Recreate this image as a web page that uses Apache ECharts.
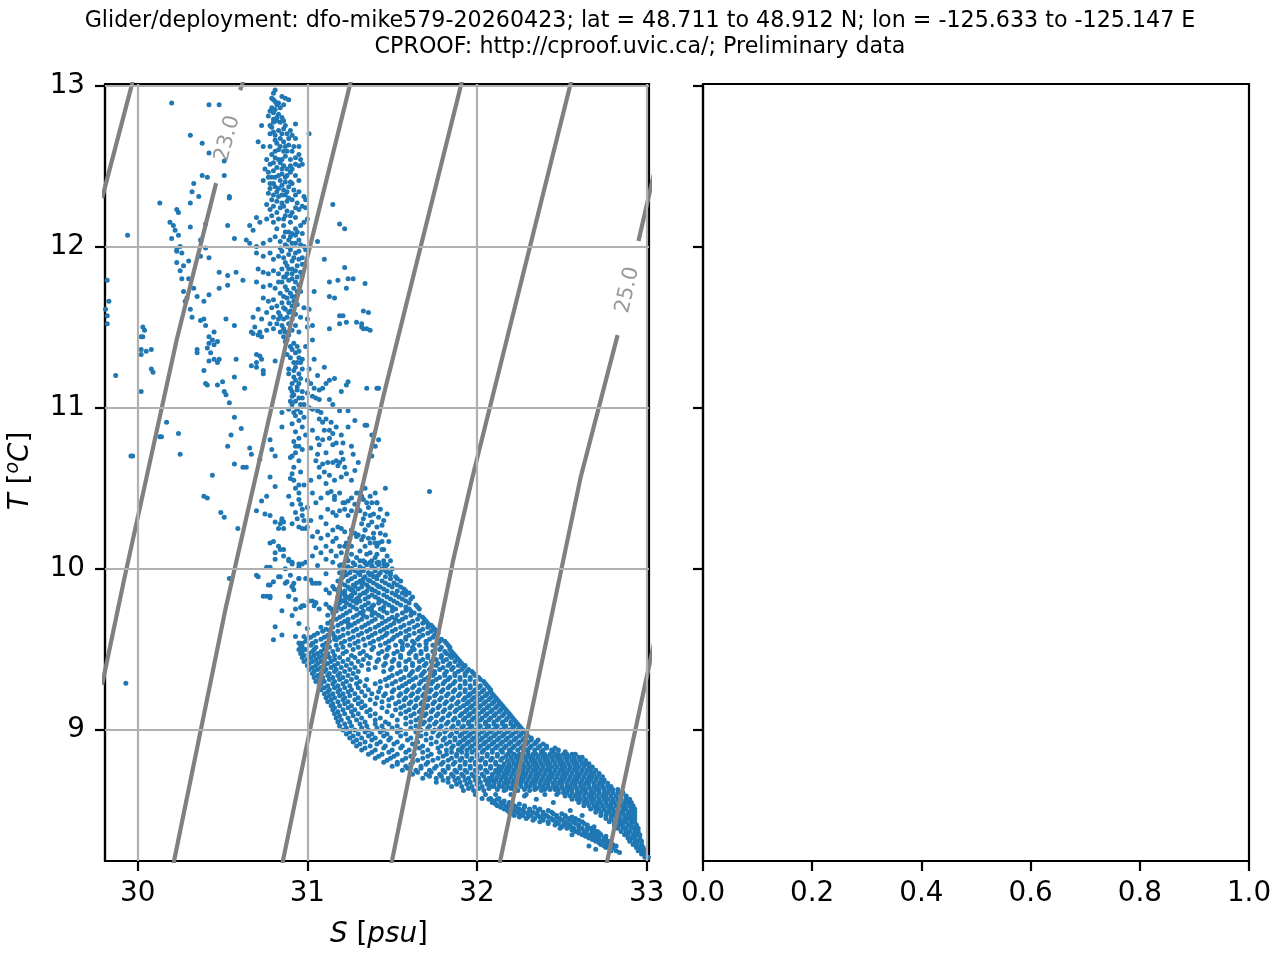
<!DOCTYPE html>
<html><head><meta charset="utf-8">
<script src="https://cdn.jsdelivr.net/npm/echarts@6/dist/echarts.min.js"></script>
<style>html,body{margin:0;padding:0;background:#fff}#c{width:1280px;height:960px}</style>
</head><body><div id="c"></div>
<script>
const titleLines = ['Glider/deployment: dfo-mike579-20260423; lat = 48.711 to 48.912 N; lon = -125.633 to -125.147 E','CPROOF: http://cproof.uvic.ca/; Preliminary data'];
const sTicks = [30, 31, 32, 33];
const tTicks = [9, 10, 11, 12, 13];
const rightTicks = [0, 0.2, 0.4, 0.6, 0.8, 1.0];
const sRange = [29.807, 33.014];
const tRange = [8.187, 13.008];

// isopycnal contours [S, T]
const sig225 = [[29.989,13.10],[29.966,13.007],[29.813,12.393],[29.79,12.30]];
const sig230a = [[30.603,12.970],[30.615,13.001],[30.63,13.06]];
const sig230b = [[30.462,12.393],[30.232,11.432],[29.919,9.930],[29.808,9.372],[29.79,9.28]];
const sig235 = [[31.274,13.10],[31.252,13.007],[30.882,11.432],[30.516,9.744],[30.214,8.187],[30.197,8.10]];
const sig240 = [[31.93,13.10],[31.907,13.007],[31.447,11.066],[31.223,10.055],[30.857,8.194],[30.84,8.10]];
const sig245 = [[32.575,13.10],[32.551,13.007],[31.972,10.563],[31.860,10.055],[31.500,8.194],[31.48,8.10]];
const sig250a = [[33.043,12.45],[33.017,12.331],[32.952,12.034]];
const sig250b = [[32.829,11.450],[32.610,10.563],[32.509,10.055],[32.138,8.194],[32.12,8.10]];
const sig255 = [[33.056,9.60],[33.022,9.434],[32.769,8.194],[32.75,8.10]];
const contourLabels = [{value:[30.53,12.67], name:'23.0', rot:75},{value:[32.888,11.73], name:'25.0', rot:77}];

// scatter points: flat S,T pairs
const outliers = [30.02,11.36,30.02,11.33,30.05,11.35,30.08,11.36,30.08,11.24,30.09,11.22,30.02,11.10,30.13,10.82,30.14,10.82,30.17,10.91,30.24,10.84,30.25,10.71,29.96,10.70,29.97,10.70,29.87,11.20,30.03,11.50,30.04,11.48,30.02,11.44,29.82,11.79,29.83,11.66,29.81,11.61,29.82,11.57,29.82,11.52,29.94,12.07,29.93,9.29,30.03,11.44];
const leftColumn = [30.20,12.89,30.42,12.88,30.48,12.88,30.31,12.69,30.38,12.64,30.42,12.58,30.51,12.53,30.51,12.44,30.38,12.44,30.41,12.43,30.33,12.39,30.32,12.34,30.36,12.31,30.13,12.27,30.31,12.27,30.54,12.31,30.54,12.30,30.23,12.23,30.24,12.21,30.19,12.15,30.21,12.13,30.31,12.12,30.40,12.14,30.53,12.13,30.57,12.05,30.22,12.10,30.24,12.07,30.20,12.05,30.23,11.98,30.23,11.97,30.37,12.04,30.40,11.99,30.30,11.91,30.23,11.90,30.25,11.85,30.26,11.80,30.30,11.80,30.37,11.94,30.42,11.93,30.48,11.84,30.53,11.82,30.58,11.84,30.62,11.79,30.33,11.74,30.29,11.68,30.28,11.66,30.35,11.69,30.39,11.66,30.48,11.74,30.53,11.76,30.37,11.54,30.40,11.51,30.45,11.47,30.52,11.55,30.57,11.51,30.42,11.70,30.26,11.96,30.27,11.88,30.31,11.61,30.32,11.56,30.39,11.55,30.42,11.44,30.25,12.00,30.27,11.72,
30.35,11.36,30.35,11.34,30.42,11.40,30.44,11.42,30.45,11.39,30.47,11.41,30.41,11.37,30.43,11.34,30.45,11.30,30.48,11.30,30.47,11.28,30.42,11.29,30.39,11.23,30.40,11.15,30.41,11.14,30.47,11.14,30.50,11.16,30.51,11.10,30.52,11.08,30.57,11.19,30.58,11.30,30.63,11.12,30.54,11.03,30.57,10.94,30.61,10.87,30.55,10.83,30.53,10.76,30.57,10.65,30.62,10.63,30.64,10.63,30.44,10.58,30.39,10.45,30.41,10.44,30.49,10.35,30.51,10.32,30.59,10.25];
const mainColumn = [30.81,12.97,30.80,12.95,30.79,12.92,30.80,12.91,30.85,12.93,30.87,12.92,30.89,12.91,30.79,12.86,30.80,12.83,30.81,12.85,30.77,12.81,30.80,12.79,30.83,12.82,30.80,12.77,30.82,12.78,30.84,12.77,30.83,12.72,30.86,12.73,30.88,12.70,30.91,12.69,30.93,12.67,30.95,12.62,30.92,12.62,30.89,12.63,30.86,12.65,30.84,12.67,30.81,12.69,30.80,12.71,30.78,12.70,30.71,12.65,30.74,12.62,30.73,12.75,31.01,12.70,30.93,12.76,30.81,12.59,30.83,12.60,30.86,12.59,30.91,12.59,30.95,12.57,30.96,12.54,30.76,12.54,30.80,12.52,30.83,12.54,30.86,12.50,30.90,12.50,30.93,12.51,30.95,12.50,30.97,12.51,30.75,12.48,30.77,12.46,30.80,12.47,30.83,12.44,30.87,12.43,30.90,12.46,30.93,12.44,30.95,12.41,30.74,12.41,30.78,12.39,30.81,12.37,30.85,12.38,30.89,12.37,30.92,12.35,30.95,12.34,30.98,12.31,30.99,12.29,30.77,12.33,30.80,12.32,30.83,12.31,30.87,12.32,30.91,12.29,30.94,12.27,30.97,12.25,30.76,12.26,30.80,12.25,30.84,12.24,30.88,12.22,30.91,12.21,30.95,12.23,30.99,12.24,30.70,12.18,30.72,12.15,30.76,12.17,30.80,12.15,30.83,12.17,30.86,12.13,30.89,12.09,30.93,12.11,30.96,12.13,30.98,12.15,31.00,12.17,30.66,12.13,30.68,12.10,30.64,12.04,30.66,12.02,30.70,12.00,30.74,12.02,30.78,12.04,30.81,12.06,30.86,12.06,30.89,12.04,30.91,12.02,30.95,12.04,30.98,12.00,30.99,11.98,30.70,11.96,30.74,11.94,30.78,11.96,30.80,11.92,30.83,11.94,30.87,11.90,30.91,11.91,30.95,11.92,30.97,11.89,30.71,11.86,30.74,11.84,30.77,11.83,30.80,11.85,30.83,11.83,30.87,11.81,30.91,11.80,30.93,11.78,30.95,11.76,30.70,11.78,30.74,11.75,30.78,11.76,30.81,11.74,30.84,11.71,30.87,11.75,30.90,11.71,30.93,11.69,30.74,11.68,30.77,11.66,30.80,11.67,30.82,11.63,30.85,11.65,30.87,11.61,30.89,11.59,30.91,11.63,30.76,11.59,30.80,11.56,30.83,11.55,30.85,11.51,30.87,11.47,30.80,11.49,30.76,11.48,30.72,11.47,30.69,11.50,30.67,11.47,30.91,11.55,30.93,11.51,30.95,11.47,30.89,11.45,
30.82,12.88,30.84,12.86,30.78,12.75,30.85,12.80,30.87,12.75,30.89,12.67,30.82,12.64,30.87,12.56,30.84,12.52,30.79,12.57,30.82,12.49,30.88,12.48,30.85,12.45,30.79,12.43,30.86,12.35,30.90,12.40,30.82,12.34,30.88,12.28,30.85,12.27,30.79,12.29,30.93,12.18,30.90,12.15,30.87,12.19,30.82,12.11,30.97,12.08,30.93,12.07,30.88,12.00,30.93,11.96,30.85,11.97,30.89,11.86,30.93,11.85,30.97,11.82,30.85,11.78,30.96,11.72,30.88,11.68,30.92,11.66,30.83,11.59,30.79,11.62,30.86,11.55,30.78,11.52,30.84,11.47,30.98,11.62,30.96,11.56,31.00,11.50,30.73,11.55,30.71,11.61,30.68,11.56,
30.81,12.90,30.83,12.89,30.86,12.88,30.78,12.84,30.82,12.80,30.86,12.78,30.79,12.74,30.85,12.70,30.90,12.72,30.81,12.66,30.87,12.62,30.84,12.62,30.78,12.62,30.88,12.59,30.93,12.55,30.90,12.54,30.85,12.54,30.81,12.55,30.78,12.51,30.85,12.48,30.91,12.48,30.88,12.44,30.81,12.43,30.77,12.43,30.84,12.41,30.91,12.39,30.87,12.40,30.80,12.39,30.83,12.36,30.88,12.34,30.93,12.32,30.78,12.36,30.85,12.32,30.89,12.30,30.82,12.28,30.86,12.25,30.93,12.24,30.78,12.23,30.82,12.21,30.90,12.19,30.86,12.17,30.79,12.19,
30.91,12.08,30.94,12.09,30.87,12.09,30.84,12.03,30.90,12.06,30.93,12.02,30.96,12.01,30.87,12.01,30.84,11.99,30.90,11.98,30.95,11.97,30.89,11.95,30.92,11.93,30.86,11.93,30.97,11.93,30.88,11.88,30.94,11.88,30.91,11.86,30.85,11.86,30.96,11.84,30.88,11.83,30.91,11.83,30.94,11.81,30.86,11.81,30.89,11.79,30.83,11.78,30.92,11.74,30.88,11.73,30.94,11.72,30.86,11.69,30.91,11.69,30.89,11.65,30.94,11.64,30.86,11.62,30.90,11.60,30.84,11.57,30.88,11.56,30.93,11.58,30.82,11.52,30.89,11.52,30.86,11.49,30.91,11.48,
31.15,12.26,31.19,12.14,31.22,12.11,31.22,11.87,31.13,11.78,31.18,11.79,31.24,11.80,31.27,11.80,31.23,11.74,31.34,11.77,31.13,11.69,31.16,11.68,31.33,11.60,31.36,11.59,31.19,11.57,31.21,11.57,31.19,11.52,31.23,11.53,31.29,11.53,31.32,11.50,31.35,11.49,31.00,11.55,31.01,11.61,31.03,11.51,31.13,11.49,31.10,11.92,31.06,12.03,31.04,11.72];
const middle = [30.86,11.44,30.87,11.41,30.92,11.40,30.91,11.36,30.93,11.34,30.95,11.35,30.97,11.30,30.92,11.28,30.94,11.28,30.96,11.28,30.89,11.24,30.92,11.23,30.95,11.21,30.96,11.18,30.93,11.17,30.91,11.15,30.95,11.15,30.94,11.11,30.91,11.10,30.91,11.07,30.90,11.04,30.93,11.04,30.95,11.06,30.97,11.06,30.91,11.02,30.94,10.99,30.96,10.97,30.89,10.99,30.93,10.95,30.98,10.94,
30.88,11.42,30.90,11.38,30.94,11.38,30.88,11.33,30.95,11.31,30.90,11.31,30.93,11.25,30.89,11.21,30.97,11.24,30.92,11.19,30.94,11.13,30.90,11.12,30.97,11.10,30.92,11.08,30.96,11.02,30.92,10.97,30.95,10.92,30.91,10.90,30.97,10.88,30.93,10.85,30.95,10.81,30.92,10.79,30.97,10.74,30.93,10.72,30.95,10.67,30.92,10.63,30.96,10.60,30.93,10.50,30.96,10.40,30.93,10.35,30.98,10.30,30.94,10.31,
30.68,11.46,30.71,11.45,30.73,11.44,30.70,11.33,30.72,11.32,30.73,11.30,30.70,11.28,30.67,11.26,30.70,11.25,30.74,11.23,30.74,11.21,30.81,11.29,
31.01,11.24,31.00,11.17,31.02,11.15,31.04,11.12,31.07,11.11,31.09,11.12,31.11,11.15,31.13,11.17,31.16,11.18,31.20,11.10,31.23,11.14,31.24,11.16,31.35,11.12,31.41,11.12,31.03,11.07,31.05,11.06,31.07,11.05,31.13,11.05,31.15,11.02,
31.01,11.00,31.03,10.99,31.06,10.98,31.08,10.97,31.07,10.93,31.09,10.91,31.11,10.93,31.14,10.91,31.17,10.88,31.15,10.84,31.13,10.81,31.13,10.86,31.19,10.98,31.24,10.98,31.06,10.81,31.09,10.80,31.07,10.77,31.06,10.71,31.15,10.77,31.17,10.78,31.21,10.78,31.26,10.76,31.34,10.89,31.42,10.80,
30.93,10.76,30.95,10.76,30.91,10.70,30.90,10.69,30.91,10.59,30.90,10.56,30.92,10.55,30.95,10.52,30.98,10.52,30.89,10.45,30.95,10.47,30.95,10.43,30.91,10.40,30.97,10.37,31.00,10.38,30.97,10.33,31.00,10.26,30.97,10.25,30.95,10.26,30.91,10.28,
31.05,10.67,31.07,10.63,31.09,10.65,31.12,10.66,31.15,10.66,31.17,10.67,31.18,10.64,31.19,10.66,31.21,10.68,31.22,10.63,31.23,10.59,31.20,10.57,31.13,10.58,
31.05,10.41,31.11,10.53,31.12,10.47,31.14,10.48,31.16,10.45,31.16,10.43,31.19,10.47,31.21,10.41,31.22,10.41,31.24,10.42,31.26,10.44,31.29,10.47,31.32,10.45,31.33,10.43,
31.15,10.35,31.17,10.33,31.19,10.36,31.22,10.37,31.24,10.33,31.26,10.36,31.28,10.40,31.30,10.37,31.34,10.34,31.35,10.41,31.38,10.41,31.41,10.41,30.85,10.30,30.84,10.28,30.86,10.25,30.99,10.25,
31.11,10.28,31.15,10.24,31.18,10.26,31.20,10.25,31.22,10.23,31.26,10.24,31.28,10.22,31.29,10.20,31.30,10.21,31.34,10.24,31.36,10.19,31.39,10.22,31.41,10.14,31.26,10.14,31.22,10.14,31.19,10.14,31.15,10.17,31.11,10.14,31.23,10.16,31.32,10.18,31.37,10.16,31.40,10.16,31.42,10.16,
30.83,10.14,30.86,10.12,30.89,10.06,30.91,10.04,30.95,10.03,30.99,10.04,31.03,10.08,31.11,10.06,31.15,10.04,31.19,10.02,31.22,9.99,31.26,10.00,31.32,9.99,31.34,10.04,31.38,10.02,31.42,10.04,31.38,9.97,31.40,9.95,31.36,9.93,31.32,9.91,31.28,9.89,31.26,9.87,31.22,9.85,31.19,9.87,31.15,9.89,31.11,9.87,31.07,9.91,31.03,9.91,30.99,9.94,30.95,9.94,30.91,9.89,30.87,9.91,31.03,9.80,31.05,9.79,31.07,9.75,31.13,9.76,31.19,9.83,31.22,9.81,31.26,9.83,31.30,9.82,31.34,9.85,31.38,9.87,31.42,9.89,
30.66,10.75,30.67,10.71,30.72,10.68,30.73,10.42,30.70,10.36,30.75,10.34,30.78,10.33,30.76,10.45,30.78,10.80,30.79,10.74,30.81,10.70,30.78,10.57,30.81,10.51,30.85,10.97,30.85,10.88,30.81,10.29,30.85,10.31,30.86,10.29,30.83,10.25,30.80,10.17,30.78,10.16,30.81,10.10,30.81,10.06,30.84,10.12,30.86,10.08,30.89,10.05,30.91,10.03,30.95,10.01,30.76,10.01,30.78,10.01,30.71,9.95,30.54,9.94,30.78,9.90,30.83,9.95,30.88,9.92,30.91,9.89,30.76,9.83,30.78,9.83,30.89,9.83,30.93,9.81,30.96,9.76,30.98,9.77,
31.32,11.52,31.33,11.49,31.37,11.48,31.42,11.12,31.35,10.89,31.38,10.83,31.40,10.76,31.38,10.70,31.46,10.50,31.72,10.48,31.41,10.41,31.36,10.38,31.47,10.34,31.42,10.32,31.45,10.30,31.41,10.26,31.34,10.24,31.44,10.17,31.48,10.17,31.44,10.12,31.45,10.12,31.49,10.05,31.45,10.03,31.46,10.02,31.47,9.98,31.33,10.31,31.36,10.27,31.39,10.34,31.43,10.22,31.37,10.10,31.40,10.07,31.35,10.09,
30.70,9.96,30.74,9.83,30.78,9.82,30.77,9.90,30.80,9.92,30.84,9.95,30.87,10.00,30.90,9.96,30.92,9.91,30.95,9.94,30.97,10.03,31.02,9.93,31.05,9.91,31.06,10.02,31.11,9.97,31.13,9.85,31.11,9.78,31.05,9.79,31.04,9.77,31.01,9.80,30.97,9.77,30.93,9.75,30.91,9.71,30.95,9.66,31.00,9.63,30.98,9.58,30.93,9.58,30.95,9.54,30.85,9.59,30.80,9.56,30.81,9.64,30.85,9.74,30.89,9.83,30.92,9.87,31.14,9.75,31.13,9.62,31.16,9.58,31.17,9.56,
31.31,10.47,31.34,10.50,31.37,10.45,31.40,10.47,31.31,10.36,31.37,10.33,31.43,10.37,31.32,10.28,31.38,10.29,31.44,10.27,31.33,10.20,31.39,10.19,31.46,10.21,31.31,10.11,31.34,10.14,31.41,10.09,31.47,10.08,31.33,10.05,31.37,10.04,31.29,10.07,31.26,10.09,31.23,10.07,31.20,10.10,31.17,10.08,31.14,10.11,31.08,10.10,31.05,10.13,31.08,10.19,31.12,10.21,31.17,10.19,31.25,10.19,31.06,10.23,31.03,10.20,31.02,10.30,31.08,10.32,31.12,10.37,31.08,10.44,31.03,10.47,31.02,10.55,31.07,10.57,31.10,10.60,31.16,10.55,31.26,10.55,31.28,10.61,31.30,10.66,31.27,10.71,31.20,10.72,31.11,10.72,31.02,10.75,30.99,10.83,31.03,10.86,31.10,10.86,31.20,10.83,31.24,10.88,31.28,10.92,30.98,11.02,31.00,11.09,31.06,11.20,31.10,11.25,31.04,11.30,30.99,11.38,31.03,11.42];

// sheet rows: [T, S, S, ...]
const sheetRows = [
[10.05,31.24,31.31,31.38,31.45],[10.025,31.20,31.28,31.35,31.42,31.47],[10.00,31.22,31.26,31.33,31.40,31.44,31.50],[9.975,31.19,31.25,31.30,31.36,31.43,31.49],[9.95,31.21,31.28,31.34,31.39,31.46,31.52],[9.925,31.18,31.24,31.31,31.37,31.44,31.55],[9.90,31.22,31.27,31.35,31.41,31.48,31.53],[9.875,31.16,31.25,31.30,31.38,31.45,31.57],[9.85,31.20,31.28,31.33,31.42,31.50,31.56,31.60],[9.825,31.18,31.24,31.36,31.40,31.47,31.54,31.62],[9.80,31.21,31.27,31.31,31.44,31.51,31.58],[9.775,31.17,31.25,31.34,31.39,31.48,31.55,31.64],[9.75,31.20,31.29,31.36,31.43,31.52,31.60,31.66],[9.725,31.15,31.23,31.31,31.40,31.47,31.56,31.63],[9.70,31.19,31.27,31.35,31.44,31.50,31.58,31.68],[9.675,31.14,31.22,31.30,31.38,31.46,31.54,31.62,31.70],[9.65,31.18,31.26,31.34,31.42,31.49,31.57,31.65,31.73],[9.625,31.11,31.21,31.29,31.37,31.45,31.52,31.60,31.68,31.75],[9.60,31.06,31.15,31.24,31.32,31.40,31.47,31.55,31.63,31.71,31.77],[9.575,31.02,31.10,31.19,31.27,31.36,31.44,31.51,31.58,31.66,31.74],[9.55,30.99,31.05,31.13,31.22,31.30,31.39,31.48,31.55,31.62,31.70,31.78,31.81],[9.525,30.96,31.02,31.09,31.17,31.25,31.34,31.43,31.52,31.59,31.66,31.74,31.83],
[9.50,30.95,30.99,31.04,31.10,31.18,31.27,31.38,31.47,31.56,31.63,31.70,31.78,31.84],[9.475,30.96,31.01,31.06,31.12,31.21,31.31,31.42,31.51,31.60,31.67,31.75,31.82,31.86],[9.45,30.97,31.02,31.07,31.13,31.19,31.28,31.37,31.46,31.55,31.64,31.71,31.79,31.85,31.88],[9.425,30.98,31.03,31.08,31.14,31.21,31.30,31.41,31.50,31.58,31.66,31.73,31.80,31.87,31.90],[9.40,31.00,31.05,31.10,31.16,31.23,31.32,31.45,31.54,31.62,31.69,31.76,31.83,31.89,31.93],[9.375,31.01,31.06,31.11,31.17,31.25,31.36,31.49,31.58,31.65,31.72,31.78,31.85,31.91,31.95],[9.35,31.03,31.08,31.13,31.19,31.27,31.53,31.61,31.68,31.75,31.81,31.87,31.93,31.98],[9.325,31.04,31.09,31.15,31.21,31.29,31.48,31.57,31.64,31.71,31.78,31.84,31.90,31.96,32.01],[9.30,31.05,31.10,31.16,31.23,31.31,31.43,31.52,31.60,31.67,31.74,31.81,31.87,31.93,31.99,32.04],[9.275,31.07,31.12,31.18,31.25,31.34,31.47,31.56,31.63,31.70,31.77,31.84,31.90,31.96,32.02,32.06],[9.25,31.08,31.13,31.19,31.26,31.36,31.51,31.59,31.66,31.73,31.80,31.87,31.93,31.99,32.04,32.08],[9.225,31.10,31.15,31.21,31.28,31.38,31.46,31.55,31.62,31.69,31.76,31.83,31.90,31.96,32.01,32.06,32.09],[9.20,31.11,31.16,31.22,31.30,31.41,31.50,31.58,31.65,31.72,31.79,31.86,31.93,31.98,32.03,32.08,32.11],[9.175,31.12,31.18,31.24,31.32,31.44,31.54,31.61,31.68,31.75,31.82,31.89,31.95,32.00,32.05,32.10,32.13],[9.15,31.14,31.19,31.26,31.34,31.48,31.57,31.64,31.71,31.78,31.85,31.92,31.97,32.02,32.07,32.12,32.15],[9.125,31.15,31.21,31.28,31.37,31.52,31.60,31.67,31.74,31.81,31.88,31.94,31.99,32.04,32.09,32.14,32.17],[9.10,31.16,31.22,31.30,31.40,31.55,31.63,31.70,31.77,31.84,31.91,31.96,32.01,32.06,32.11,32.16,32.19],[9.075,31.17,31.24,31.32,31.43,31.58,31.66,31.73,31.80,31.87,31.93,31.98,32.03,32.08,32.13,32.18,32.21],[9.05,31.18,31.25,31.34,31.46,31.61,31.69,31.76,31.83,31.89,31.95,32.00,32.05,32.10,32.15,32.20,32.23],[9.025,31.19,31.26,31.35,31.44,31.53,31.64,31.72,31.79,31.86,31.92,31.97,32.02,32.07,32.12,32.17,32.22,32.25],[9.00,31.21,31.28,31.36,31.45,31.55,31.67,31.75,31.82,31.88,31.94,31.99,32.04,32.09,32.14,32.19,32.24,32.27],[8.975,31.23,31.30,31.38,31.47,31.58,31.70,31.78,31.85,31.91,31.96,32.01,32.06,32.11,32.16,32.21,32.26,32.29],[8.95,31.25,31.32,31.40,31.49,31.61,31.73,31.81,31.87,31.93,31.98,32.03,32.08,32.13,32.18,32.23,32.28,32.32],[8.925,31.27,31.34,31.43,31.53,31.65,31.76,31.84,31.90,31.95,32.00,32.05,32.10,32.15,32.20,32.25,32.30,32.35],[8.90,31.29,31.37,31.46,31.56,31.68,31.79,31.86,31.92,31.97,32.02,32.07,32.12,32.17,32.22,32.27,32.32,32.37,32.41],[8.875,31.32,31.40,31.50,31.60,31.71,31.82,31.89,31.94,31.99,32.04,32.09,32.14,32.19,32.24,32.29,32.34,32.39,32.44,32.48],[8.865,32.30,32.38,32.45,32.52],
[8.85,31.36,31.44,31.53,31.63,31.73,31.82,31.88,31.94,32.00,32.06,32.12,32.18],[8.825,31.40,31.49,31.58,31.68,31.77,31.85,31.91,31.97,32.03,32.09,32.15],[8.80,31.45,31.53,31.62,31.71,31.80,31.87,31.93,31.99,32.05,32.11],[8.775,31.50,31.58,31.67,31.76,31.83,31.90,31.96,32.02,32.08,32.13],[8.75,31.56,31.64,31.72,31.80,31.87,31.93,31.99,32.05,32.11],[8.725,31.62,31.70,31.78,31.85,31.91,31.97,32.03,32.09],[8.70,31.68,31.76,31.83,31.89,31.95,32.01,32.07],[8.675,31.76,31.83,31.90,31.96,32.02,32.07],[8.65,31.85,31.91,31.97,32.03,32.08],[8.625,31.92,31.98,32.04,32.16,32.24,32.31,32.38],[8.60,31.99,32.05,32.11,32.20,32.29,32.40,32.47],[8.575,32.03,32.08,32.13]
];
// in-between rows of the same sheet
const sheetRows2 = [
[10.0375,31.27,31.34,31.41],[10.0125,31.24,31.31,31.38,31.46],[9.9875,31.22,31.28,31.33,31.40,31.46],[9.9625,31.23,31.31,31.37,31.42,31.49],[9.9375,31.20,31.26,31.33,31.41,31.49,31.53],[9.9125,31.20,31.29,31.33,31.39,31.46,31.51],[9.8875,31.19,31.24,31.32,31.36,31.43,31.50,31.55],[9.8625,31.18,31.22,31.27,31.35,31.40,31.47,31.53,31.58],[9.8375,31.22,31.26,31.31,31.38,31.45,31.52,31.58],[9.8125,31.19,31.25,31.29,31.34,31.42,31.49,31.56,31.61],[9.7875,31.19,31.23,31.29,31.36,31.42,31.46,31.53,31.60],[9.7625,31.18,31.22,31.27,31.32,31.38,31.45,31.50,31.58,31.65],[9.7375,31.17,31.25,31.33,31.38,31.45,31.50,31.58,31.61],[9.7125,31.12,31.21,31.29,31.33,31.38,31.42,31.53,31.61,31.66],[9.6875,31.17,31.24,31.32,31.40,31.48,31.52,31.56,31.65,31.69],[9.6625,31.12,31.20,31.24,31.28,31.36,31.44,31.51,31.60,31.68,31.71],[9.6375,31.08,31.15,31.24,31.32,31.40,31.47,31.55,31.63,31.71,31.74],[9.6125,31.09,31.18,31.27,31.35,31.43,31.50,31.58,31.66,31.73,31.76],[9.5875,31.04,31.12,31.21,31.30,31.38,31.46,31.53,31.60,31.68,31.75],[9.5625,31.00,31.08,31.16,31.25,31.33,31.42,31.50,31.58,31.65,31.72,31.79],[9.5375,30.97,31.03,31.11,31.20,31.28,31.37,31.46,31.56,31.63,31.70,31.77,31.82],[9.5125,30.97,31.05,31.13,31.21,31.30,31.39,31.48,31.56,31.62,31.70,31.79,31.84],
[9.4875,30.97,31.03,31.08,31.15,31.23,31.33,31.44,31.53,31.61,31.67,31.74,31.81,31.85],[9.4625,30.98,31.04,31.09,31.16,31.26,31.35,31.47,31.55,31.64,31.71,31.79,31.84,31.87],[9.4375,31.00,31.05,31.10,31.16,31.24,31.33,31.42,31.51,31.60,31.68,31.76,31.82,31.89],[9.4125,31.01,31.06,31.12,31.18,31.26,31.36,31.46,31.54,31.62,31.70,31.77,31.84,31.91],[9.3875,31.03,31.08,31.14,31.20,31.28,31.40,31.50,31.58,31.66,31.73,31.80,31.86,31.92],[9.3625,31.04,31.10,31.16,31.22,31.30,31.45,31.55,31.62,31.69,31.75,31.82,31.89,31.94,31.97],[9.3375,31.06,31.12,31.18,31.24,31.50,31.60,31.67,31.74,31.81,31.87,31.93,31.99],[9.3125,31.07,31.13,31.19,31.26,31.35,31.46,31.55,31.62,31.69,31.76,31.83,31.90,31.96,32.02],[9.2875,31.08,31.15,31.21,31.29,31.40,31.50,31.58,31.66,31.73,31.80,31.86,31.93,31.99,32.05],[9.2625,31.10,31.16,31.22,31.30,31.43,31.54,31.62,31.69,31.76,31.83,31.90,31.96,32.01,32.07],[9.2375,31.12,31.18,31.24,31.32,31.42,31.50,31.58,31.65,31.72,31.79,31.86,31.93,31.98,32.03,32.08],[9.2125,31.13,31.19,31.25,31.34,31.45,31.54,31.61,31.68,31.75,31.82,31.89,31.95,32.00,32.05,32.10],[9.1875,31.14,31.21,31.28,31.37,31.48,31.57,31.64,31.71,31.78,31.85,31.92,31.97,32.02,32.07,32.12],[9.1625,31.15,31.22,31.30,31.40,31.52,31.60,31.67,31.74,31.81,31.88,31.94,31.99,32.04,32.09,32.14],[9.1375,31.16,31.24,31.32,31.44,31.55,31.63,31.70,31.77,31.84,31.90,31.96,32.01,32.06,32.11,32.16],[9.1125,31.18,31.26,31.35,31.47,31.58,31.66,31.73,31.80,31.87,31.93,31.98,32.03,32.08,32.13,32.18],[9.0875,31.19,31.27,31.37,31.50,31.61,31.69,31.76,31.83,31.90,31.95,32.00,32.05,32.10,32.15,32.20],[9.0625,31.20,31.29,31.40,31.53,31.64,31.72,31.79,31.86,31.92,31.97,32.02,32.07,32.12,32.17,32.22],[9.0375,31.22,31.31,31.40,31.48,31.58,31.68,31.75,31.82,31.89,31.95,32.00,32.05,32.10,32.15,32.20,32.24],[9.0125,31.23,31.32,31.41,31.50,31.61,31.71,31.78,31.85,31.91,31.96,32.01,32.06,32.11,32.16,32.21,32.26],[8.9875,31.25,31.34,31.43,31.53,31.64,31.74,31.81,31.88,31.93,31.98,32.03,32.08,32.13,32.18,32.23,32.28],[8.9625,31.27,31.36,31.45,31.55,31.67,31.77,31.84,31.90,31.95,32.00,32.05,32.10,32.15,32.20,32.25,32.30],[8.9375,31.29,31.38,31.48,31.59,31.70,31.80,31.87,31.92,31.97,32.02,32.07,32.12,32.17,32.22,32.27,32.32,32.36],[8.9125,31.31,31.41,31.51,31.62,31.73,31.82,31.89,31.94,31.99,32.04,32.09,32.14,32.19,32.24,32.29,32.34,32.39],[8.8875,31.34,31.45,31.55,31.66,31.77,31.85,31.91,31.96,32.01,32.06,32.11,32.16,32.21,32.26,32.31,32.36,32.41,32.46],
[8.8625,31.38,31.48,31.58,31.68,31.78,31.85,31.91,31.97,32.03,32.09,32.15,32.20],[8.8375,31.42,31.51,31.61,31.71,31.80,31.88,31.94,32.00,32.06,32.12,32.17],[8.8125,31.47,31.56,31.65,31.74,31.83,31.90,31.96,32.02,32.08,32.14],[8.7875,31.53,31.61,31.70,31.79,31.86,31.93,31.99,32.05,32.11],[8.7625,31.59,31.67,31.75,31.83,31.90,31.96,32.02,32.08,32.13],[8.7375,31.65,31.73,31.81,31.88,31.94,32.00,32.06,32.11],[8.7125,31.72,31.79,31.86,31.92,31.98,32.04,32.09],[8.6875,31.80,31.87,31.93,31.99,32.05,32.09],[8.6625,31.88,31.94,32.00,32.06],[8.6375,31.95,32.01,32.07,32.20,32.35]
];
const coreRows = [
[8.85,32.22,32.25,32.27,32.30,32.33,32.35,32.38,32.40,32.43,32.46,32.48,32.51,32.53,32.56,32.58],
[8.83,32.20,32.23,32.25,32.28,32.31,32.33,32.36,32.39,32.41,32.44,32.47,32.49,32.52,32.54,32.57,32.60,32.62],
[8.81,32.18,32.21,32.24,32.26,32.29,32.32,32.34,32.37,32.40,32.42,32.45,32.48,32.50,32.53,32.56,32.58,32.61,32.64],
[8.79,32.16,32.19,32.22,32.24,32.27,32.30,32.33,32.35,32.38,32.41,32.43,32.46,32.49,32.51,32.54,32.57,32.59,32.62,32.64,32.66],
[8.77,32.15,32.18,32.20,32.23,32.26,32.28,32.31,32.34,32.36,32.39,32.42,32.44,32.47,32.50,32.52,32.55,32.58,32.60,32.63,32.66,32.68],
[8.75,32.14,32.17,32.19,32.22,32.25,32.27,32.30,32.33,32.35,32.38,32.41,32.43,32.46,32.49,32.51,32.54,32.57,32.59,32.62,32.65,32.67,32.70],
[8.73,32.13,32.16,32.18,32.21,32.24,32.27,32.29,32.32,32.35,32.37,32.40,32.43,32.45,32.48,32.51,32.53,32.56,32.59,32.61,32.64,32.67,32.69,32.72],
[8.71,32.12,32.15,32.17,32.20,32.23,32.26,32.28,32.31,32.34,32.36,32.39,32.42,32.44,32.47,32.50,32.52,32.55,32.58,32.60,32.63,32.66,32.68,32.71,32.74],
[8.69,32.11,32.14,32.17,32.19,32.22,32.25,32.27,32.30,32.33,32.35,32.38,32.41,32.43,32.46,32.49,32.51,32.54,32.57,32.59,32.62,32.65,32.67,32.70,32.73,32.75],
[8.67,32.10,32.13,32.16,32.18,32.21,32.24,32.26,32.29,32.32,32.34,32.37,32.40,32.42,32.45,32.48,32.50,32.53,32.56,32.58,32.61,32.64,32.66,32.69,32.72,32.74,32.77],
[8.65,32.10,32.13,32.15,32.18,32.21,32.23,32.26,32.29,32.31,32.34,32.37,32.39,32.42,32.45,32.47,32.50,32.53,32.55,32.58,32.61,32.63,32.66,32.69,32.71,32.74,32.77,32.79],
[8.63,32.12,32.17,32.22,32.28,32.34,32.40,32.43,32.46,32.48,32.51,32.54,32.56,32.59,32.62,32.64,32.67,32.70,32.72,32.75,32.78,32.80,32.83],
[8.61,32.48,32.51,32.53,32.56,32.59,32.61,32.64,32.67,32.69,32.72,32.75,32.77,32.80,32.83,32.86],
[8.59,32.52,32.55,32.58,32.60,32.63,32.66,32.68,32.71,32.74,32.76,32.79,32.82,32.85,32.88],
[8.57,32.56,32.59,32.61,32.64,32.67,32.69,32.72,32.75,32.77,32.80,32.83,32.85,32.88,32.90],
[8.55,32.60,32.63,32.65,32.68,32.71,32.73,32.76,32.79,32.81,32.84,32.87,32.89,32.91],
[8.53,32.63,32.66,32.69,32.71,32.74,32.77,32.79,32.82,32.85,32.87,32.90,32.92],
[8.51,32.67,32.70,32.72,32.75,32.78,32.80,32.83,32.86,32.88,32.91,32.93],
[8.49,32.70,32.73,32.76,32.78,32.81,32.84,32.86,32.89,32.91,32.93],
[8.47,32.73,32.76,32.79,32.81,32.84,32.87,32.89,32.91,32.93],
[8.45,32.76,32.79,32.82,32.84,32.87,32.89,32.91,32.93],
[8.43,32.78,32.81,32.84,32.86,32.88,32.91,32.93],
[8.41,32.81,32.84,32.86,32.89,32.91,32.94],
[8.39,32.83,32.86,32.88,32.91,32.93,32.95],
[8.37,32.85,32.88,32.90,32.93,32.95],
[8.35,32.87,32.89,32.92,32.94,32.96],
[8.33,32.89,32.91,32.93,32.96],[8.31,32.90,32.93,32.95,32.97],[8.29,32.92,32.94,32.97],[8.27,32.94,32.96,32.98],[8.25,32.95,32.97,32.99],[8.23,32.97,32.99],[8.21,32.99,33.01]
];
const lowerBranchRows = [
[8.57,32.07,32.12],[8.55,32.09,32.14,32.19],[8.53,32.12,32.17,32.22,32.28],[8.51,32.16,32.20,32.25,32.31,32.37],[8.49,32.19,32.24,32.28,32.33,32.39,32.44],[8.47,32.22,32.27,32.32,32.36,32.41,32.47,32.52],[8.45,32.29,32.34,32.39,32.44,32.49,32.54,32.58],[8.43,32.37,32.42,32.47,32.52,32.57,32.62],[8.41,32.46,32.51,32.55,32.60,32.65],[8.39,32.53,32.57,32.62,32.67],[8.37,32.58,32.63,32.68,32.71],[8.35,32.62,32.66,32.70,32.73],[8.33,32.66,32.70,32.75],[8.31,32.70,32.74,32.78],[8.29,32.73,32.77,32.80],[8.27,32.76,32.80],[8.25,32.79,32.82],
[8.56,32.10,32.16],[8.54,32.11,32.15,32.20,32.25],[8.52,32.14,32.19,32.23,32.28,32.34],[8.50,32.18,32.22,32.27,32.31,32.36,32.42],[8.48,32.21,32.25,32.30,32.35,32.39,32.45,32.50],[8.46,32.25,32.30,32.37,32.42,32.47,32.52,32.56],[8.44,32.33,32.39,32.45,32.50,32.55,32.60],[8.42,32.42,32.48,32.53,32.58,32.63],[8.40,32.50,32.55,32.60,32.65,32.69],[8.38,32.56,32.60,32.65,32.69],[8.36,32.60,32.64,32.68,32.72],[8.34,32.64,32.68,32.72,32.76],[8.32,32.68,32.72,32.76],[8.30,32.72,32.76,32.79],[8.28,32.75,32.79,32.82]
];
const sparseLow = [32.49,8.39,32.56,8.35,32.66,8.28,32.70,8.26,32.84,8.24,32.45,8.55,32.55,8.50,32.62,8.47,32.35,8.57,32.28,8.59];

function pairs(a){const r=[];for(let i=0;i<a.length;i+=2)r.push([a[i],a[i+1]]);return r;}
function rows(rs){const r=[];rs.forEach(row=>{for(let i=1;i<row.length;i++)r.push([row[i],row[0]]);});return r;}
const pts = [].concat(pairs(outliers),pairs(leftColumn),pairs(mainColumn),pairs(middle),rows(sheetRows),rows(sheetRows2),rows(coreRows),rows(lowerBranchRows),pairs(sparseLow));

const FONT = 'DejaVu Sans';
const TICKF = 27.8;
const gridLine = {color:'#b0b0b0', width:2.2, type:'solid'};
function contour(d){return {type:'line', xAxisIndex:0, yAxisIndex:0, data:d, showSymbol:false, symbol:'none', lineStyle:{color:'#808080', width:4.2}, z:3, silent:true, animation:false, clip:true};}

const chart = echarts.init(document.getElementById('c'), null, {renderer:'canvas'});
chart.setOption({
  animation:false,
  backgroundColor:'#fff',
  title:{text:titleLines.join('\n'), left:'center', top:3, textStyle:{fontFamily:FONT, fontSize:22.2, fontWeight:'normal', color:'#000', lineHeight:26}},
  grid:[
    {left:105, top:84, width:544, height:777, show:true, borderColor:'#000', borderWidth:2.2, backgroundColor:'transparent'},
    {left:703, top:84, width:546, height:777, show:true, borderColor:'#000', borderWidth:2.2, backgroundColor:'transparent'}
  ],
  xAxis:[
    {type:'value', gridIndex:0, min:sRange[0], max:sRange[1],
     axisLine:{show:true, onZero:false, lineStyle:{color:'#000', width:2.2}},
     axisTick:{show:true, customValues:sTicks, length:10, lineStyle:{color:'#000', width:2.2}},
     axisLabel:{show:true, customValues:sTicks, margin:19, fontFamily:FONT, fontSize:TICKF, color:'#000'},
     splitLine:{show:false}},
    {type:'value', gridIndex:1, min:0, max:1, interval:0.2,
     axisLine:{show:true, onZero:false, lineStyle:{color:'#000', width:2.2}},
     axisTick:{show:true, length:10, lineStyle:{color:'#000', width:2.2}},
     axisLabel:{show:true, margin:19, fontFamily:FONT, fontSize:TICKF, color:'#000', formatter:v=>v.toFixed(1)},
     splitLine:{show:false}}
  ],
  yAxis:[
    {type:'value', gridIndex:0, min:tRange[0], max:tRange[1],
     axisLine:{show:true, onZero:false, lineStyle:{color:'#000', width:2.2}},
     axisTick:{show:true, customValues:tTicks, length:10, lineStyle:{color:'#000', width:2.2}},
     axisLabel:{show:true, customValues:tTicks, margin:20, fontFamily:FONT, fontSize:TICKF, color:'#000'},
     splitLine:{show:false}},
    {type:'value', gridIndex:1, min:tRange[0], max:tRange[1],
     axisLine:{show:true, onZero:false, lineStyle:{color:'#000', width:2.2}},
     axisTick:{show:true, customValues:tTicks, length:10, lineStyle:{color:'#000', width:2.2}},
     axisLabel:{show:false, customValues:tTicks},
     splitLine:{show:false}}
  ],
  series:[
    {type:'scatter', xAxisIndex:0, yAxisIndex:0, data:pts, symbol:'circle', symbolSize:5, itemStyle:{color:'#1f77b4', opacity:1}, z:1, silent:true, animation:false},
    {type:'line', xAxisIndex:0, yAxisIndex:0, data:[], z:2, silent:true,
     markLine:{silent:true, symbol:['none','none'], label:{show:false}, lineStyle:gridLine, animation:false,
       data:sTicks.map(v=>({xAxis:v})).concat(tTicks.map(v=>({yAxis:v})))}},
    contour(sig225), contour(sig230a), contour(sig230b), contour(sig235), contour(sig240), contour(sig245), contour(sig250a), contour(sig250b), contour(sig255),
    {type:'scatter', xAxisIndex:0, yAxisIndex:0, symbolSize:0, z:4, silent:true,
     data:contourLabels.map(c=>({value:c.value, name:c.name, label:{rotate:c.rot}})),
     label:{show:true, position:'inside', formatter:p=>p.name, color:'#808080', fontFamily:FONT, fontSize:21}},
    {type:'scatter', xAxisIndex:1, yAxisIndex:1, data:[]}
  ],
  graphic:[
    {type:'text', x:379, y:935, style:{text:'{i|S} [{i|psu}]', x:0, y:0, align:'center', verticalAlign:'middle', fontFamily:FONT, fontSize:TICKF, fill:'#000',
      rich:{i:{fontStyle:'italic', fontFamily:FONT, fontSize:TICKF}}}},
    {type:'text', x:21, y:471, rotation:Math.PI/2, style:{text:'{i|T} [{s|o}{i|C}]', x:0, y:0, align:'center', verticalAlign:'middle', fontFamily:FONT, fontSize:TICKF, fill:'#000', lineHeight:34,
      rich:{i:{fontStyle:'italic', fontFamily:FONT, fontSize:TICKF, lineHeight:34}, s:{fontStyle:'italic', fontFamily:FONT, fontSize:19, verticalAlign:'top', lineHeight:34}}}}
  ]
});
</script></body></html>
